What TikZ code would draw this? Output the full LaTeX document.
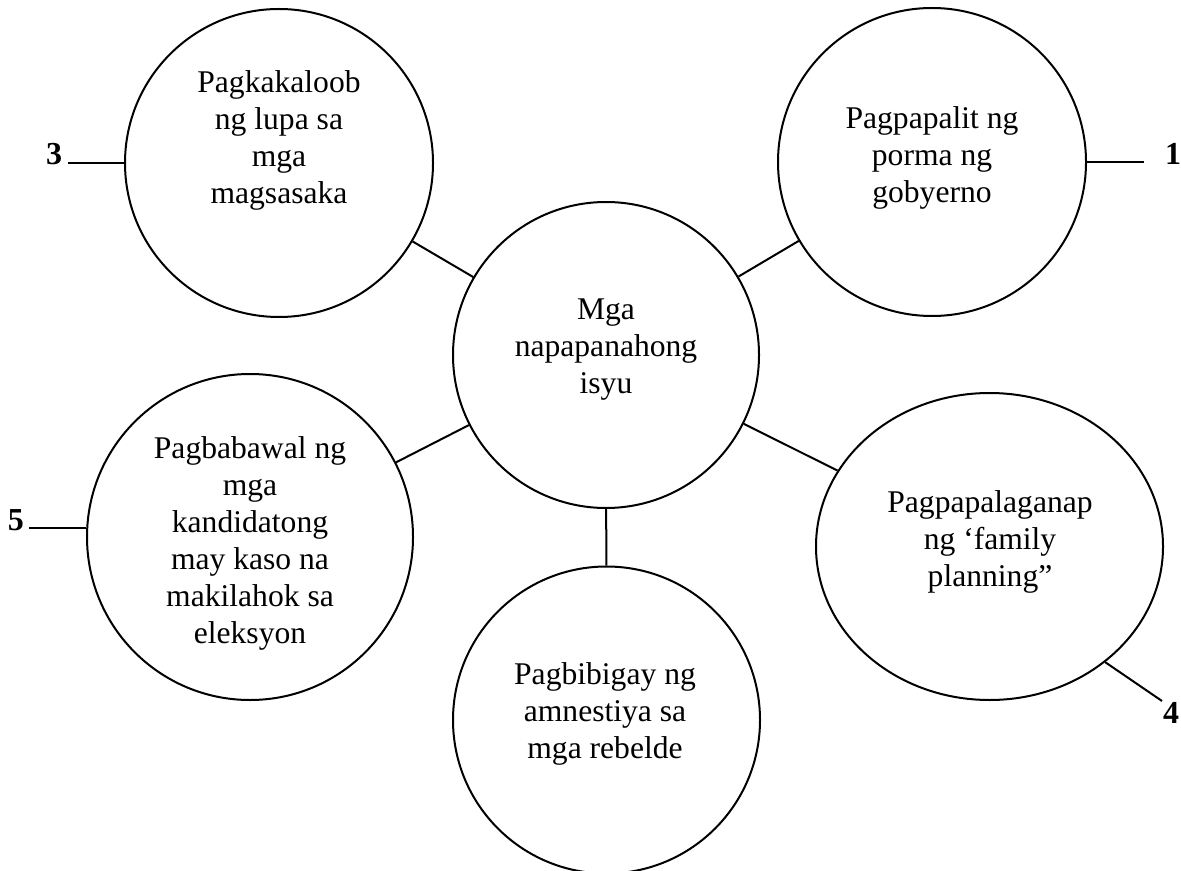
\documentclass[tikz,border=0pt]{standalone}
\usepackage{fontspec}
\setmainfont{Liberation Serif}
\usetikzlibrary{shapes.geometric}

\begin{document}
\begin{tikzpicture}[x=0.5pt,y=-0.5pt]


% GLOBAL SETTINGS
\newcommand{\txtsize}{\fontsize{15.8}{18.5}\selectfont}
\newcommand{\numsize}{\fontsize{16}{19}\selectfont\bfseries}
\tikzset{
  issue/.style={draw, circle, line width=1pt, inner sep=0pt},
  issuetxt/.style={align=center, inner sep=0pt, font=\txtsize},
  num/.style={inner sep=0pt, font=\numsize},
  every path/.style={line width=1pt}
}
\useasboundingbox (0,0) rectangle (1181,871);

% CIRCLES
\node[issue, minimum size=153pt] (C) at (606,355) {};
\node[issue, minimum size=154pt] (I1) at (932,162) {};
\node[issue, minimum size=153.5pt] (I2) at (606.5,720) {};
\node[issue, minimum size=154pt] (I3) at (279,163) {};
\node[issue, ellipse, minimum width=173.5pt, minimum height=153.5pt] (I4) at (989.5,546.5) {};
\node[issue, minimum size=163pt] (I5) at (250,537) {};

% TEXTS
\node[issuetxt] (TC) at (606,350) {Mga\\napapanahong\\isyu};
\node[issuetxt] (T1) at (932,158) {Pagpapalit ng\\porma ng\\gobyerno};
\node[issuetxt] (T2) at (605,714) {Pagbibigay ng\\amnestiya sa\\mga rebelde};
\node[issuetxt] (T3) at (279,140) {Pagkakaloob\\ng lupa sa\\mga\\magsasaka};
\node[issuetxt] (T4) at (990,542) {Pagpapalaganap\\ng ‘family\\planning”};
\node[issuetxt] (T5) at (250,543) {Pagbabawal ng\\mga\\kandidatong\\may kaso na\\makilahok sa\\eleksyon};

% NUMBERS
\node[num, anchor=base west] (N1) at (1164,165) {1};
\node[num, anchor=base east] (N3) at (63,165) {3};
\node[num, anchor=north west] (N4) at (1162,701) {4};
\node[num, anchor=base east] (N5) at (25,530) {5};

% EDGES
\foreach \j in {1,...,5} { \draw (C) -- (I\j) ;}
\draw (I1.east) -- ([xshift=-10pt]I1.east -| N1.west);
\draw (I3.west) -- ([xshift=2.5pt]I3.west -| N3.east);
\draw (I4.-45) -- (N4.north west);
\draw (I5.177) -- ([xshift=2pt]I5.177 -| N5.east);

\end{tikzpicture}
\end{document}
